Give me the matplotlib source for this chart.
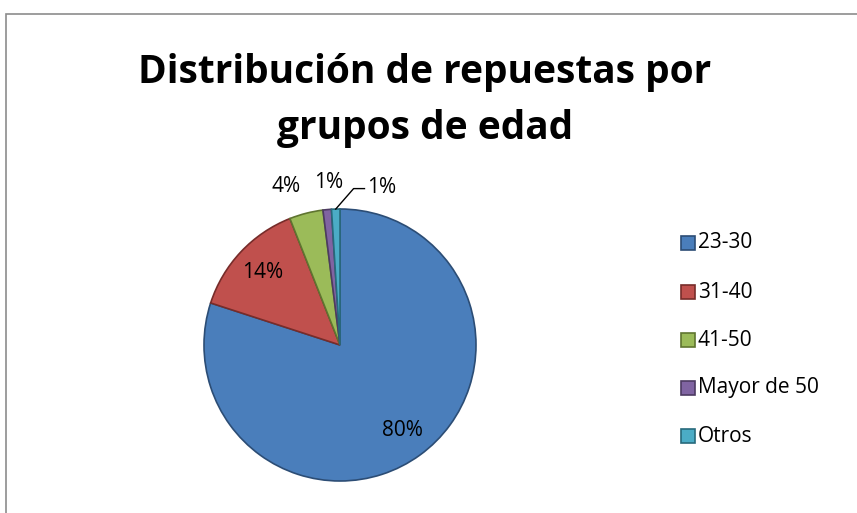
import matplotlib
matplotlib.use("Agg")
import matplotlib.pyplot as plt
from matplotlib.patches import Rectangle
import numpy as np

# Data
groups = ["23-30", "31-40", "41-50", "Mayor de 50", "Otros"]
shares = [80, 14, 4, 1, 1]
colors = ["#4A7EBB", "#C0504D", "#9BBB59", "#8064A2", "#4BACC6"]
edges = ["#2C4D75", "#772C2A", "#5F7530", "#4D3B62", "#276A7C"]

plt.rcParams['font.family'] = ['Open Sans', 'DejaVu Sans']

W, H = 857, 513
fig = plt.figure(figsize=(W / 100, H / 100), dpi=100)

# chart border
fig.patches.append(Rectangle((6 / W, -0.1), 1.1, (H - 14) / H + 0.1,
                             transform=fig.transFigure, fill=False,
                             edgecolor="#8C8C8C", linewidth=1.2))

fig.text(425 / W, 1 - 72 / H, "Distribución de repuestas por", ha="center",
         va="center", fontsize=28, fontweight="bold")
fig.text(425 / W, 1 - 128 / H, "grupos de edad", ha="center",
         va="center", fontsize=28, fontweight="bold")

cx, cy, r = 340, 345, 136
ax = fig.add_axes([(cx - r) / W, (H - cy - r) / H, 2 * r / W, 2 * r / H])
wedges, _ = ax.pie(shares, colors=colors, startangle=90, counterclock=False,
                   radius=1, wedgeprops=dict(linewidth=1.2))
for w, ec in zip(wedges, edges):
    w.set_edgecolor(ec)
ax.set_xlim(-1, 1)
ax.set_ylim(-1, 1)
ax.set_aspect("auto")
ax.axis("off")

# small nudges so the outside labels don't collide
nudge = [0, 0, -0.1, 0.03, 0]
for i, (w, s) in enumerate(zip(wedges, shares)):
    mid = np.deg2rad((w.theta1 + w.theta2) / 2)
    txt = f"{s}%"
    if s >= 10:
        d = 0.78
        ax.text(d * np.cos(mid), d * np.sin(mid), txt, ha="center",
                va="center", fontsize=15)
    elif i < len(shares) - 1:
        d = 1.2
        ax.text(d * np.cos(mid) + nudge[i], d * np.sin(mid), txt,
                ha="center", va="center", fontsize=15, clip_on=False)
    else:
        x0, y0 = 1.0 * np.cos(mid), 1.0 * np.sin(mid)
        ax.plot([x0, 0.1, 0.18], [y0, 1.15, 1.15], color="black",
                linewidth=1, clip_on=False)
        ax.text(0.2, 1.16, txt, ha="left", va="center", fontsize=15,
                clip_on=False)

# legend
ys = [243, 292, 340, 388, 436]
for g, c, ec, y in zip(groups, colors, edges, ys):
    fig.patches.append(Rectangle(((681) / W, 1 - (y + 7) / H), 14 / W, 14 / H,
                                 transform=fig.transFigure, facecolor=c,
                                 edgecolor=ec, linewidth=1.2))
    fig.text(698 / W, 1 - y / H, g, ha="left", va="center", fontsize=15)

fig.savefig("out.png", dpi=100)
